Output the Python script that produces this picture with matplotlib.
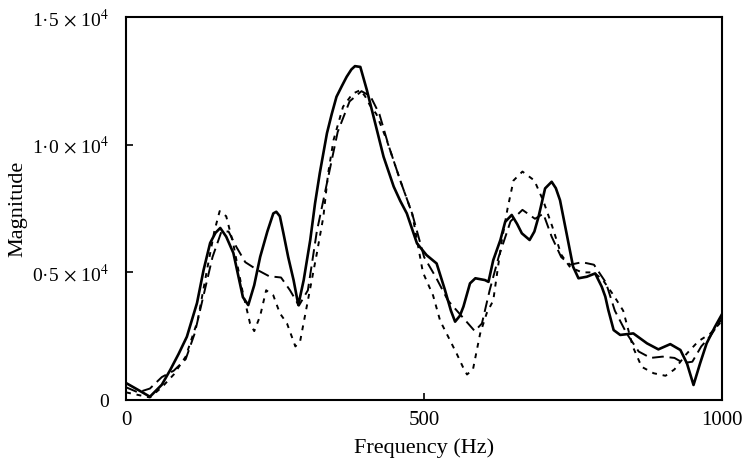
import numpy as np
import matplotlib.pyplot as plt

plt.rcParams['font.family'] = ['Liberation Serif', 'DejaVu Serif']
plt.rcParams['mathtext.fontset'] = 'stix'

# solid trace
freq_a = [0, 20, 40, 60, 74, 88, 102, 119, 130, 141, 150, 158, 168, 180, 196, 205,
          215, 225, 237, 247, 252, 258, 264, 272, 281, 289, 298, 309, 317, 325, 337,
          345, 353, 362, 370, 378, 384, 393, 404, 418, 432, 449, 460, 471, 488, 504,
          521, 535, 545, 552, 560, 566, 577, 586, 602, 608, 616, 628, 636, 647, 656,
          664, 677, 685, 692, 703, 714, 721, 728, 739, 750, 759, 773, 787, 798, 804,
          809, 818, 829, 851, 874, 893, 913, 930, 941, 952, 963, 974, 988, 999]
mag_a = [665, 400, 130, 600, 1175, 1800, 2480, 3800, 5090, 6150, 6550, 6740, 6400,
         5760, 4030, 3720, 4500, 5610, 6600, 7310, 7376, 7200, 6530, 5600, 4700, 3720,
         4700, 6270, 7700, 8890, 10450, 11200, 11880, 12300, 12660, 12950, 13080,
         13050, 12140, 10840, 9530, 8360, 7800, 7310, 6140, 5680, 5350, 4310, 3500,
         3070, 3300, 3660, 4570, 4770, 4700, 4630, 5480, 6270, 6980, 7250, 6900, 6530,
         6270, 6600, 7180, 8290, 8550, 8300, 7830, 6530, 5220, 4770, 4830, 4960, 4440,
         4050, 3530, 2740, 2550, 2610, 2220, 1985, 2190, 1960, 1435, 590, 1435, 2220,
         2870, 3330]

# dashed trace
freq_b = [0, 20, 40, 60, 80, 100, 115, 130, 145, 160, 172, 185, 200, 220, 240, 260,
          275, 290, 305, 320, 337, 355, 375, 395, 410, 425, 440, 460, 480, 500, 520,
          540, 555, 570, 585, 597, 610, 625, 645, 665, 686, 700, 714, 730, 745, 765,
          785, 805, 820, 840, 860, 880, 900, 920, 935, 950, 965, 980, 1000]
mag_b = [500, 300, 450, 900, 1150, 1600, 2600, 4100, 5600, 6600, 6600, 6000, 5400,
         5100, 4850, 4800, 4300, 3700, 4300, 6600, 8500, 10500, 11700, 12100, 11900,
         11200, 10000, 8600, 7300, 5600, 4800, 3900, 3500, 3100, 2700, 3000, 4300,
         5600, 7000, 7450, 7100, 7300, 6400, 5600, 5300, 5400, 5300, 4600, 3500, 2600,
         1900, 1650, 1700, 1650, 1450, 1500, 2100, 2500, 3200]

# dotted trace
freq_c = [0, 20, 40, 60, 80, 100, 120, 135, 148, 157, 168, 180, 195, 208, 215, 225,
          235, 247, 258, 270, 284, 292, 303, 320, 331, 339, 348, 364, 380, 393, 401,
          409, 420, 437, 460, 480, 498, 515, 527, 540, 555, 565, 572, 582, 594, 605,
          616, 630, 640, 650, 665, 685, 700, 715, 730, 745, 765, 785, 800, 818, 834,
          850, 865, 885, 905, 920, 940, 960, 980, 1000]
mag_c = [300, 200, 100, 500, 1000, 1700, 3100, 5000, 6600, 7400, 7200, 6100, 4300,
         3000, 2700, 3300, 4300, 4100, 3400, 3000, 2100, 2300, 3650, 5740, 7180, 8880,
         10180, 11490, 12000, 12140, 11900, 11550, 11200, 10200, 8600, 7300, 5000, 4100,
         3100, 2500, 1800, 1300, 1000, 1200, 2600, 3400, 3900, 6200, 7500, 8600, 8950,
         8600, 7800, 6800, 5700, 5200, 5000, 5000, 4700, 4100, 3500, 2100, 1300, 1050,
         950, 1200, 1800, 2300, 2600, 3100]

y_ticks = [0, 5000, 10000, 15000]
y_labels = ['0', r'0·5$\,\times\,$10$^4$', r'1·0$\,\times\,$10$^4$', r'1·5$\,\times\,$10$^4$']
x_ticks = [0, 500, 1000]

fig = plt.figure(figsize=(7.46, 4.63), dpi=100)
ax = fig.add_axes([0.169, 0.136, 0.799, 0.827])

ax.plot(freq_a, mag_a, color='black', lw=1.9, ls='-')
ax.plot(freq_b, mag_b, color='black', lw=1.4, ls=(0, (6, 3)))
ax.plot(freq_c, mag_c, color='black', lw=1.4, ls=(0, (2.5, 3)))

ax.set_xlim(0, 1000)
ax.set_ylim(0, 15000)
ax.set_xticks(x_ticks)
ax.set_xticklabels([str(v) for v in x_ticks])
ax.set_yticks(y_ticks)
ax.set_yticklabels(y_labels)
ax.tick_params(direction='in', length=5, width=1.2)
ax.tick_params(axis='y', pad=12, labelsize=14)
ax.tick_params(axis='x', pad=8, labelsize=15)
for s in ax.spines.values():
    s.set_linewidth(1.5)

ax.set_xlabel('Frequency (Hz)', fontsize=16, labelpad=6)
ax.set_ylabel('Magnitude', fontsize=16)
ax.yaxis.set_label_coords(-0.166, 0.5)

fig.savefig('out.png', dpi=100)
